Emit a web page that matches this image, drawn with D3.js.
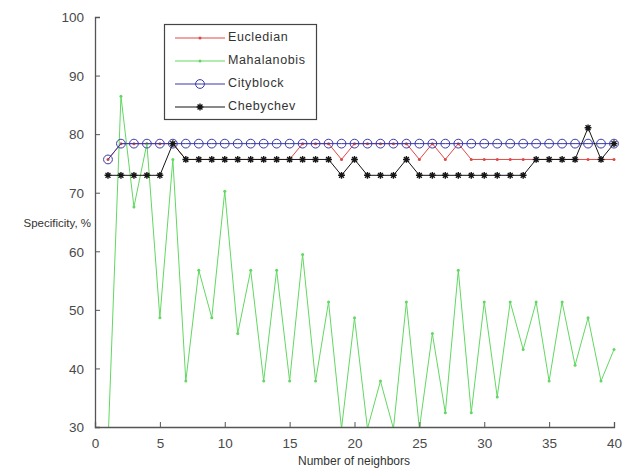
<!DOCTYPE html>
<html>
<head>
<meta charset="utf-8">
<script src="https://cdn.jsdelivr.net/npm/d3@7"></script>
<style>
  body { margin: 0; background: #fff; }
  text { font-family: "Liberation Sans", Arial, sans-serif; fill: #333; }
</style>
</head>
<body>
<svg id="chart"></svg>
<script>
// neighbours k = 1..40
const neighbors = d3.range(1, 41);

// specificity values (%)
const eucledian = [
  75.68, 78.38, 78.38, 78.38, 78.38, 78.38, 75.68, 75.68, 75.68, 75.68,
  75.68, 75.68, 75.68, 75.68, 75.68, 78.38, 78.38, 78.38, 75.68, 78.38,
  78.38, 78.38, 78.38, 78.38, 75.68, 78.38, 75.68, 78.38, 75.68, 75.68,
  75.68, 75.68, 75.68, 75.68, 75.68, 75.68, 75.68, 75.68, 75.68, 75.68
];
const mahalanobis = [
  27.03, 86.49, 67.57, 78.38, 48.65, 75.68, 37.84, 56.76, 48.65, 70.27,
  45.95, 56.76, 37.84, 56.76, 37.84, 59.46, 37.84, 51.35, 29.73, 48.65,
  29.73, 37.84, 29.73, 51.35, 29.73, 45.95, 32.43, 56.76, 32.43, 51.35,
  35.14, 51.35, 43.24, 51.35, 37.84, 51.35, 40.54, 48.65, 37.84, 43.24
];
const cityblock = [
  75.68, 78.38, 78.38, 78.38, 78.38, 78.38, 78.38, 78.38, 78.38, 78.38,
  78.38, 78.38, 78.38, 78.38, 78.38, 78.38, 78.38, 78.38, 78.38, 78.38,
  78.38, 78.38, 78.38, 78.38, 78.38, 78.38, 78.38, 78.38, 78.38, 78.38,
  78.38, 78.38, 78.38, 78.38, 78.38, 78.38, 78.38, 78.38, 78.38, 78.38
];
const chebychev = [
  72.97, 72.97, 72.97, 72.97, 72.97, 78.38, 75.68, 75.68, 75.68, 75.68,
  75.68, 75.68, 75.68, 75.68, 75.68, 75.68, 75.68, 75.68, 72.97, 75.68,
  72.97, 72.97, 72.97, 75.68, 72.97, 72.97, 72.97, 72.97, 72.97, 72.97,
  72.97, 72.97, 72.97, 75.68, 75.68, 75.68, 75.68, 81.08, 75.68, 78.38
];

const xTicks = [0, 5, 10, 15, 20, 25, 30, 35, 40];
const yTicks = [30, 40, 50, 60, 70, 80, 90, 100];

const series = [
  { name: "Eucledian", values: eucledian, color: "#e04848", marker: "dot" },
  { name: "Mahalanobis", values: mahalanobis, color: "#62d862", marker: "dot" },
  { name: "Cityblock", values: cityblock, color: "#3a3aa8", marker: "circle" },
  { name: "Chebychev", values: chebychev, color: "#151515", marker: "star" }
];

const width = 624, height = 471;
const svg = d3.select("#chart").attr("width", width).attr("height", height);

const x = d3.scaleLinear().domain([0, 40]).range([95, 614]);
const y = d3.scaleLinear().domain([30, 100]).range([427, 17]);

svg.append("clipPath").attr("id", "plot-area")
  .append("rect")
  .attr("x", x(0)).attr("y", y(100) - 6)
  .attr("width", x(40) - x(0) + 6).attr("height", y(30) - y(100) + 6);

// asterisk marker like matlab '*'
function starPath(s) {
  const k = s * 0.72;
  return `M${-s},0L${s},0M0,${-s}L0,${s}M${-k},${-k}L${k},${k}M${-k},${k}L${k},${-k}`;
}

function drawMarker(g, type, color) {
  if (type === "dot") {
    g.append("circle").attr("r", 1.5).attr("fill", color);
  } else if (type === "circle") {
    g.append("circle").attr("r", 4.4).attr("fill", "none")
      .attr("stroke", color).attr("stroke-width", 1);
  } else {
    g.append("path").attr("d", starPath(3.4)).attr("stroke", color)
      .attr("stroke-width", 1.4).attr("fill", "none");
  }
}

const line = d3.line()
  .x((d, i) => x(neighbors[i]))
  .y(d => y(d));

const plot = svg.append("g").attr("clip-path", "url(#plot-area)");

series.forEach(s => {
  const g = plot.append("g");
  g.append("path")
    .datum(s.values)
    .attr("d", line)
    .attr("fill", "none")
    .attr("stroke", s.color)
    .attr("stroke-width", 1);
  g.selectAll("g.m")
    .data(s.values)
    .enter().append("g")
    .attr("class", "m")
    .attr("transform", (d, i) => `translate(${x(neighbors[i])},${y(d)})`)
    .each(function () { drawMarker(d3.select(this), s.marker, s.color); });
});

// axes, matlab style with inward ticks
const axisColor = "#555";
const yAxis = svg.append("g")
  .attr("transform", `translate(${x(0)},0)`)
  .call(d3.axisLeft(y).tickValues(yTicks).tickSize(-5).tickPadding(11));
const xAxis = svg.append("g")
  .attr("transform", `translate(0,${y(30)})`)
  .call(d3.axisBottom(x).tickValues(xTicks).tickSize(-5).tickPadding(11));

[xAxis, yAxis].forEach(a => {
  a.select(".domain").attr("stroke", axisColor).attr("stroke-width", 1.3);
  a.selectAll(".tick line").attr("stroke", axisColor);
  a.selectAll(".tick text")
    .style("font-size", "13.5px")
    .style("fill", "#4a4a4a");
});
yAxis.selectAll(".tick text").attr("dy", "0.35em");

svg.append("text")
  .attr("x", 91).attr("y", 224)
  .attr("text-anchor", "end")
  .attr("dominant-baseline", "middle")
  .style("font-size", "11.5px")
  .text("Specificity, %");

svg.append("text")
  .attr("x", 354).attr("y", 465)
  .attr("text-anchor", "middle")
  .style("font-size", "12px")
  .text("Number of neighbors");

// legend
const legend = svg.append("g");
legend.append("rect")
  .attr("x", 164.5).attr("y", 24.5)
  .attr("width", 152).attr("height", 95)
  .attr("fill", "#fff").attr("stroke", "#444").attr("stroke-width", 1.2);

series.forEach((s, i) => {
  const row = legend.append("g").attr("transform", `translate(0,${38 + i * 23})`);
  row.append("line")
    .attr("x1", 175).attr("x2", 225)
    .attr("stroke", s.color).attr("stroke-width", 1);
  const m = row.append("g").attr("transform", "translate(200,0)");
  drawMarker(m, s.marker, s.color);
  row.append("text")
    .attr("x", 228).attr("y", 0)
    .attr("dominant-baseline", "middle")
    .style("font-size", "12.5px")
    .style("letter-spacing", "0.6px")
    .text(s.name);
});
</script>
</body>
</html>
